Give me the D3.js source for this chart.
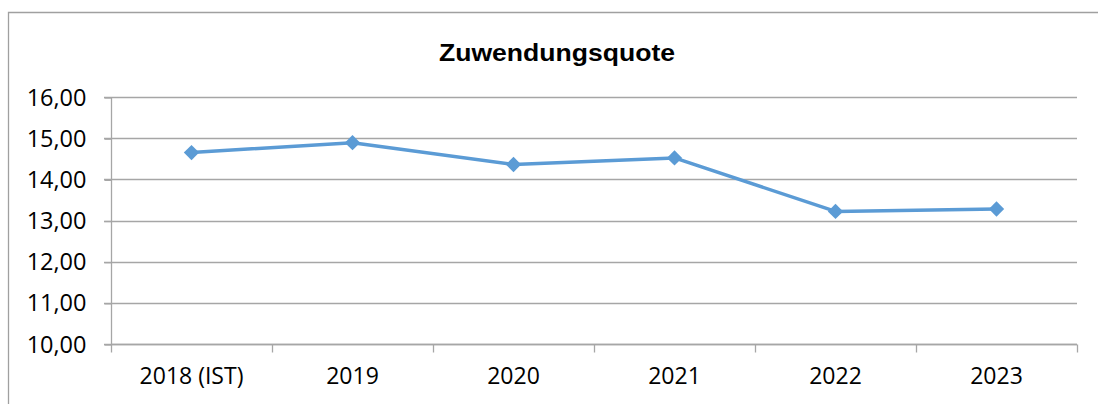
<!DOCTYPE html>
<html><head><meta charset="utf-8">
<script src="https://cdn.jsdelivr.net/npm/d3@7"></script>
<style>
html,body{margin:0;padding:0;background:#fff;}
svg{display:block;}
</style></head>
<body>
<svg id="chart" width="1098" height="404"></svg>
<script>
const categories = ["2018 (IST)", "2019", "2020", "2021", "2022", "2023"];
const values = [14.65, 14.89, 14.36, 14.52, 13.22, 13.28];
const yTicks = [10, 11, 12, 13, 14, 15, 16];
const title = "Zuwendungsquote";

const svg = d3.select("#chart");
const W = 1098, H = 404;
const m = {left: 111, right: 21, top: 97, bottom: 60};

// outer border
svg.append("path")
  .attr("d", `M8.5,${H+5} L8.5,12.5 L${W+5},12.5`)
  .attr("fill", "none").attr("stroke", "#a0a0a0").attr("stroke-width", 1.3);

svg.append("text")
  .attr("x", 557).attr("y", 61)
  .attr("text-anchor", "middle")
  .attr("font-family", "'Liberation Sans', Arial, sans-serif")
  .attr("font-weight", "bold").attr("font-size", 24)
  .attr("textLength", 236).attr("lengthAdjust", "spacingAndGlyphs")
  .attr("fill", "#000")
  .text(title);

const x = d3.scaleBand().domain(categories).range([m.left, W - m.right]).padding(0);
const y = d3.scaleLinear().domain([10, 16]).range([344, 97]);

// gridlines
svg.append("g").selectAll("line").data(yTicks).join("line")
  .attr("x1", m.left - 7).attr("x2", W - m.right)
  .attr("y1", d => Math.round(y(d)) + 0.5).attr("y2", d => Math.round(y(d)) + 0.5)
  .attr("stroke", "#a6a6a6").attr("stroke-width", 1.3);

const labelFont = "'Open Sans', 'Noto Sans', sans-serif";

// y axis
const yAxis = svg.append("g").attr("transform", `translate(${m.left + 0.5},0.5)`)
  .call(d3.axisLeft(y).tickValues(yTicks).tickSize(7).tickPadding(18)
    .tickFormat(d => d3.format(".2f")(d).replace(".", ",")));
yAxis.selectAll("path,line").attr("stroke", "#a6a6a6").attr("stroke-width", 1.3);
yAxis.selectAll("text").attr("font-family", labelFont)
  .attr("font-size", 23.5).attr("fill", "#000");
yAxis.select(".domain").attr("d", `M0,${y(10)}V${y(16)}`);

// x axis
const xAxis = svg.append("g").attr("transform", `translate(0,${Math.round(y(10)) + 0.5})`)
  .call(d3.axisBottom(x).tickSize(0).tickPadding(23));
xAxis.select(".domain").attr("d", `M${m.left},0H${W - m.right}`)
  .attr("stroke", "#a6a6a6").attr("stroke-width", 1.3);
xAxis.selectAll("text").attr("font-family", labelFont)
  .attr("font-size", 23).attr("fill", "#000");
const bounds = categories.map(c => x(c)).concat([x(categories[categories.length - 1]) + x.bandwidth()]);
xAxis.append("g").selectAll("line").data(bounds).join("line")
  .attr("x1", d => Math.round(d) + 0.5).attr("x2", d => Math.round(d) + 0.5)
  .attr("y1", 0).attr("y2", 8)
  .attr("stroke", "#a6a6a6").attr("stroke-width", 1.3);

// line
const cx = c => x(c) + x.bandwidth() / 2;
svg.append("path")
  .datum(categories.map((c, i) => [cx(c), y(values[i])]))
  .attr("d", d3.line())
  .attr("fill", "none").attr("stroke", "#5b9bd5").attr("stroke-width", 3.5)
  .attr("stroke-linejoin", "round");

svg.append("g").selectAll("path").data(categories).join("path")
  .attr("transform", (c, i) => `translate(${cx(c)},${y(values[i])})`)
  .attr("d", d3.symbol(d3.symbolDiamond2, 150))
  .attr("fill", "#5b9bd5");
</script>
</body></html>
